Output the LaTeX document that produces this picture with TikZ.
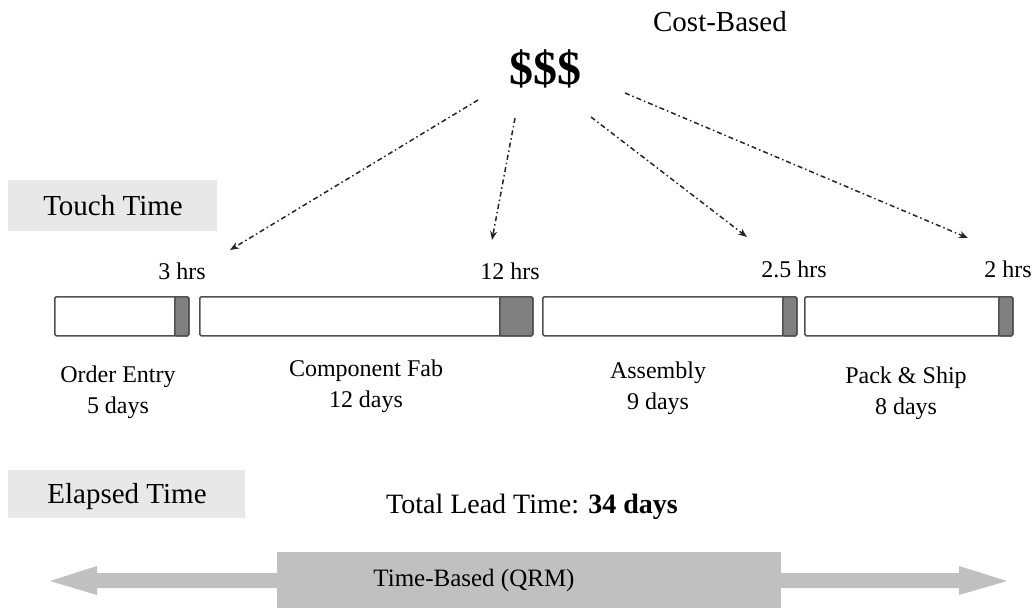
\documentclass[tikz,border=0pt]{standalone}
\usepackage{fontspec}
\setmainfont{Liberation Serif}
\usetikzlibrary{arrows.meta}
\definecolor{boxgray}{HTML}{E8E8E8}
\definecolor{bandgray}{HTML}{C0C0C0}
\definecolor{touchgray}{HTML}{808080}
\definecolor{edgegray}{HTML}{505050}

\begin{document}
\begin{tikzpicture}[x=1pt,y=-1pt,
  lbl/.style={font=\fontsize{24}{31}\selectfont, align=center, inner sep=0pt},
  hrs/.style={font=\fontsize{24}{28}\selectfont, anchor=base, inner sep=0pt},
  head/.style={font=\fontsize{29}{34}\selectfont, inner sep=0pt},
  tag/.style={fill=boxgray, draw=none, anchor=north west, inner sep=0pt},
  waitbar/.style={draw=edgegray, line width=1.5pt, rounded corners=1.5pt, fill=white,
                  minimum height=39pt, anchor=north west, inner sep=0pt},
  workbar/.style={draw=edgegray, line width=1.5pt, rounded corners=1.5pt, fill=touchgray,
                  minimum height=39pt, anchor=north east, inner sep=0pt},
  costlink/.style={draw=black!85, line width=1.5pt,
                   dash pattern=on 5pt off 3pt on 1.5pt off 3pt,
                   -{Stealth[length=9pt,width=7pt]}}
]
\useasboundingbox (0,0) rectangle (1034,608);

% cost view
\node[head] (costbased) at (720,22) {Cost-Based};
\node[font=\fontsize{48}{52}\selectfont\bfseries, inner sep=0pt] (cost) at (545,69) {\$\$\$};

% touch-time label
\node[tag, minimum width=209pt, minimum height=51pt] (touch) at (8,180) {};
\node[head, anchor=base] (touchtxt) at (113,215) {Touch Time};

% process steps: elapsed bar with touch-time segment at its end
\node[waitbar, minimum width=134pt] (oe) at (54,296) {};
\node[workbar, minimum width=14pt] (oew) at (oe.north east) {};
\node[waitbar, minimum width=333pt] (cf) at (199,296) {};
\node[workbar, minimum width=33pt] (cfw) at (cf.north east) {};
\node[waitbar, minimum width=254pt] (as) at (542,296) {};
\node[workbar, minimum width=14pt] (asw) at (as.north east) {};
\node[waitbar, minimum width=208pt] (ps) at (804,296) {};
\node[workbar, minimum width=14pt] (psw) at (ps.north east) {};

% touch times
\node[hrs] (h1) at (182,279) {3 hrs};
\node[hrs] (h2) at (510,279) {12 hrs};
\node[hrs] (h3) at (794,277) {2.5 hrs};
\node[hrs] (h4) at (1008,277) {2 hrs};

% step names and durations
\node[lbl] (l1) at (118,392) {Order Entry\\5 days};
\node[lbl] (l2) at (366,386) {Component Fab\\12 days};
\node[lbl] (l3) at (658,388) {Assembly\\9 days};
\node[lbl] (l4) at (906,393) {Pack \& Ship\\8 days};

% cost links
\coordinate (s1) at (478,100);
\coordinate (t1) at (230,250);
\coordinate (s2) at (515,118);
\coordinate (t2) at (492,240);
\coordinate (s3) at (591,117);
\coordinate (t3) at (747,237);
\coordinate (s4) at (625,93);
\coordinate (t4) at (968,238);
\draw[costlink] (s1) -- (t1);
\draw[costlink] (s2) -- (t2);
\draw[costlink] (s3) -- (t3);
\draw[costlink] (s4) -- (t4);

% elapsed-time label
\node[tag, minimum width=237pt, minimum height=48pt] (elapsed) at (8,470) {};
\node[head, anchor=base] (elapsedtxt) at (127,503) {Elapsed Time};
\node[font=\fontsize{28}{32}\selectfont, anchor=base, inner sep=0pt] (total) at (532,513)
  {Total Lead Time: \textbf{34 days}};

% time-based band
\fill[bandgray] (50,581) -- (97,566) -- (97,573) -- (959,573) -- (959,566) -- (1007,581)
  -- (959,595) -- (959,588) -- (97,588) -- (97,595) -- cycle;
\node[fill=bandgray, minimum width=504pt, minimum height=56pt, anchor=north west, inner sep=0pt]
  (qrm) at (277,552) {};
\node[font=\fontsize{25}{30}\selectfont, inner sep=0pt] (qrmtxt) at (474,580) {Time-Based (QRM)};
\end{tikzpicture}
\end{document}
